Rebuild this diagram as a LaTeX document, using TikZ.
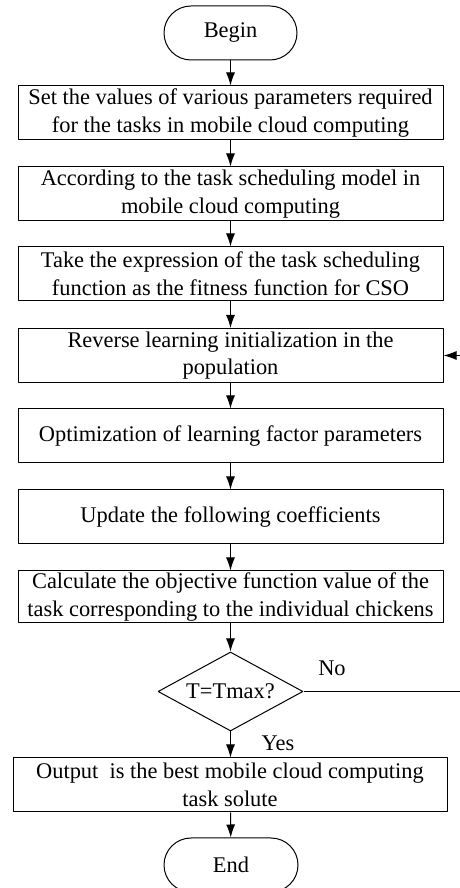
\documentclass[tikz,border=0pt]{standalone}
\usepackage{fontspec}
\setmainfont{Liberation Serif}
\usetikzlibrary{shapes.geometric,arrows.meta}
\tikzset{
  termbox/.style={draw,line width=1bp,rounded corners=27bp,minimum width=133bp,minimum height=54bp,inner sep=0pt},
  procbox/.style={draw,line width=1bp,minimum width=425bp,minimum height=54bp,align=center,inner sep=0pt},
  testbox/.style={draw,diamond,aspect=1.84,line width=1bp,minimum width=145bp,minimum height=79bp,inner sep=0pt},
}
\begin{document}
\begin{tikzpicture}[>={Latex[length=13bp,width=9bp]},line join=bevel,font=\fontsize{22.4bp}{27.7bp}\selectfont]
\useasboundingbox (0bp,0bp) rectangle (460bp,888bp);
%%
\node (begin) at (230.5bp,855bp) [termbox] {Begin};
  \node (setpar) at (230.5bp,775bp) [procbox] {Set the values of various parameters required\\for the tasks in mobile cloud computing};
  \node (model) at (230.5bp,694bp) [procbox] {According to the task scheduling model in\\mobile cloud computing};
  \node (fitness) at (230.5bp,614bp) [procbox] {Take the expression of the task scheduling\\function as the fitness function for CSO};
  \node (revinit) at (230.5bp,532.5bp) [procbox] {Reverse learning initialization in the\\population};
  \node (optfac) at (230.5bp,452bp) [procbox] {Optimization of learning factor parameters};
  \node (update) at (230.5bp,371bp) [procbox] {Update the following coefficients};
  \node (objval) at (230.5bp,291bp) [procbox,minimum height=52bp] {Calculate the objective function value of the\\task corresponding to the individual chickens};
  \node (tmax) at (230.5bp,196.5bp) [testbox] {T=Tmax?};
  \node (output) at (230bp,103bp) [procbox,minimum width=434bp] {Output\ \ is the best mobile cloud computing\\task solute};
  \node (end) at (231bp,23bp) [termbox,minimum width=134bp] {End};
  \node (no) at (332bp,220bp) {No};
  \node (yes) at (278bp,145bp) {Yes};
  \coordinate (noout) at (460bp,196.5bp);
  \coordinate (noin) at (460bp,532.5bp);
  \draw [black,line width=1bp,->] (begin) -- (setpar);
  \draw [black,line width=1bp,->] (setpar) -- (model);
  \draw [black,line width=1bp,->] (model) -- (fitness);
  \draw [black,line width=1bp,->] (fitness) -- (revinit);
  \draw [black,line width=1bp,->] (revinit) -- (optfac);
  \draw [black,line width=1bp,->] (optfac) -- (update);
  \draw [black,line width=1bp,->] (update) -- (objval);
  \draw [black,line width=1bp,->] (objval) -- (tmax);
  \draw [black,line width=1bp,->] (tmax) -- (output.north -| tmax);
  \draw [black,line width=1bp,->] (output.south -| tmax) -- (end);
  \draw [black,line width=1bp] (tmax.east) -- (noout);
  \draw [black,line width=1bp,->] (noin) -- (revinit.east |- noin);
%
\end{tikzpicture}
\end{document}
